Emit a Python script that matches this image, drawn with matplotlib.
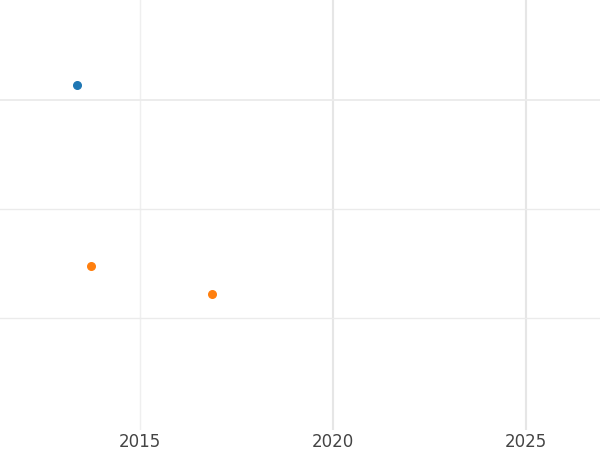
import matplotlib.pyplot as plt

blue_x = [2013.37]
blue_y = [3.14]
orange_x = [2013.73, 2016.87]
orange_y = [1.48, 1.22]
x_ticks = [2015, 2020, 2025]
y_grid = [1, 2, 3]

fig = plt.figure(figsize=(6, 4.5), dpi=100)
ax = fig.add_axes([0, 0.045, 1, 0.955])
ax.set_xlim(2011.37, 2026.92)
ax.set_ylim(-0.025, 3.917)

for x in x_ticks:
    ax.axvline(x, color='#e6e6e6' if x != 2015 else '#efefef', lw=1.5 if x != 2015 else 1, zorder=0)
for y in y_grid:
    ax.axhline(y, color='#ebebeb', lw=1 if y != 3 else 1.3, zorder=0)

ax.scatter(blue_x, blue_y, color='#1f77b4', s=30, zorder=3)
ax.scatter(orange_x, orange_y, color='#ff7f0e', s=30, zorder=3)

ax.set_xticks(x_ticks)
ax.set_yticks([])
ax.tick_params(axis='x', length=0, labelsize=12, labelcolor='#444444', pad=2)
for s in ax.spines.values():
    s.set_visible(False)

fig.savefig('out.png')
